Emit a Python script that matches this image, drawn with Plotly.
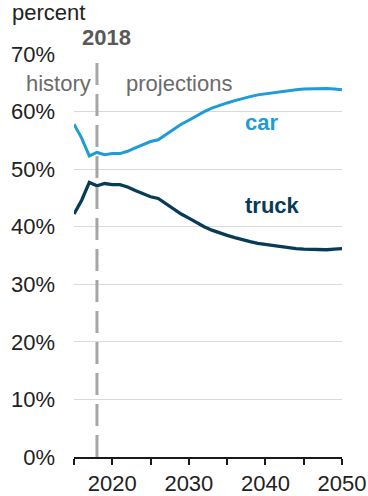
import plotly.graph_objects as go

# Share of light-duty vehicle sales, history and projections
years = list(range(2015, 2051))
car = [57.8, 55.4, 52.3, 52.9, 52.5, 52.7, 52.7, 53.1, 53.7, 54.3,
       54.8, 55.1, 56.0, 56.9, 57.8, 58.5, 59.3, 60.0, 60.6, 61.1,
       61.5, 61.9, 62.3, 62.6, 62.9, 63.1, 63.3, 63.5, 63.6, 63.8,
       63.9, 63.95, 64.0, 64.0, 63.9, 63.8]
truck = [42.2, 44.6, 47.7, 47.1, 47.5, 47.3, 47.3, 46.9, 46.3, 45.7,
         45.2, 44.9, 44.0, 43.1, 42.2, 41.5, 40.7, 40.0, 39.4, 38.9,
         38.5, 38.1, 37.7, 37.4, 37.1, 36.9, 36.7, 36.5, 36.4, 36.2,
         36.1, 36.05, 36.0, 36.0, 36.1, 36.2]

x_tickvals = [2015, 2020, 2025, 2030, 2035, 2040, 2045, 2050]
x_ticktext = ["", "2020", "", "2030", "", "2040", "", "2050"]
y_tickvals = [0, 10, 20, 30, 40, 50, 60, 70]
y_ticktext = ["0%", "10%", "20%", "30%", "40%", "50%", "60%", "70%"]

CAR_BLUE = "#1f9bd7"
TRUCK_NAVY = "#073b57"
FONT = "Liberation Sans, Arial, sans-serif"

fig = go.Figure()
fig.add_trace(go.Scatter(x=years, y=car, mode="lines",
                         line=dict(color=CAR_BLUE, width=3), hoverinfo="skip"))
fig.add_trace(go.Scatter(x=years, y=truck, mode="lines",
                         line=dict(color=TRUCK_NAVY, width=3.3), hoverinfo="skip"))

# 2018 divider between history and projections
fig.add_shape(type="line", xref="x", yref="y", x0=2018, x1=2018, y0=0, y1=69.4,
              line=dict(color="#a6a6a6", width=3, dash="22px,9px"), layer="above")


def label(text, x, y, color, xanchor="center"):
    fig.add_annotation(text=text, x=x, y=y, xref="paper", yref="paper",
                       xanchor=xanchor, yanchor="middle", showarrow=False,
                       font=dict(family=FONT, size=22, color=color))


label("percent", -0.239, 1.104, "#222222", xanchor="left")
label("<b>2018</b>", 0.123, 1.042, "#595959")
label("history", -0.058, 0.926, "#6b6b6b")
label("projections", 0.392, 0.926, "#6b6b6b")
label("<b>car</b>", 0.700, 0.831, CAR_BLUE)
label("<b>truck</b>", 0.741, 0.625, TRUCK_NAVY)

fig.update_layout(
    width=368, height=496,
    margin=dict(l=74, r=26, t=54, b=39),
    paper_bgcolor="white", plot_bgcolor="white",
    showlegend=False,
    font=dict(family=FONT, size=22, color="#222222"),
    xaxis=dict(range=[2015, 2050], tickvals=x_tickvals, ticktext=x_ticktext,
               showgrid=False, zeroline=False, showline=True, automargin=False,
               linecolor="#1a1a1a", linewidth=1.5,
               ticks="outside", ticklen=6, tickwidth=1.5, tickcolor="#1a1a1a",
               tickfont=dict(family=FONT, size=22, color="#222222")),
    yaxis=dict(range=[0, 70], tickvals=y_tickvals, ticktext=y_ticktext,
               showgrid=True, gridcolor="#d9d9d9", gridwidth=1,
               zeroline=False, showline=False, ticks="", automargin=False,
               ticklabelstandoff=18,
               tickfont=dict(family=FONT, size=22, color="#222222")),
)

fig.write_html("out.html")
